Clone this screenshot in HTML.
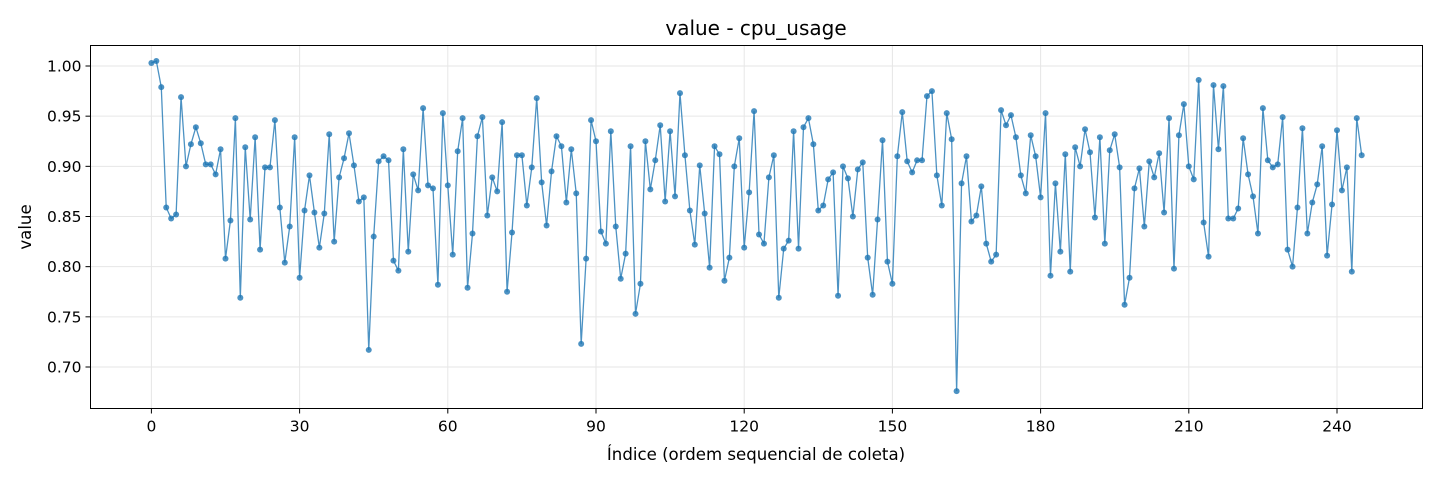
<!DOCTYPE html>
<html><head><meta charset="utf-8"><style>
body{margin:0;background:#fff;font-family:"Liberation Sans","DejaVu Sans",sans-serif}
svg text{font-family:"DejaVu Sans","Liberation Sans",sans-serif}
</style></head><body>
<svg id="chart" width="1440" height="480" xmlns="http://www.w3.org/2000/svg">
<rect width="1440" height="480" fill="#fff"/>
<g id="grid"></g><g id="series"></g><g id="axes"></g>
<text x="756" y="35" font-size="20" text-anchor="middle">value - cpu_usage</text>
<text x="756" y="460" font-size="16.6" text-anchor="middle">Índice (ordem sequencial de coleta)</text>
<text x="31" y="227" font-size="16.6" text-anchor="middle" transform="rotate(-90 31 227)">value</text>
</svg>
<script>
const values=[1.003,1.005,0.979,0.859,0.848,0.852,0.969,0.900,0.922,0.939,0.923,0.902,0.902,0.892,0.917,0.808,0.846,0.948,0.769,0.919,0.847,0.929,0.817,0.899,0.899,0.946,0.859,0.804,0.840,0.929,0.789,0.856,0.891,0.854,0.819,0.853,0.932,0.825,0.889,0.908,0.933,0.901,0.865,0.869,0.717,0.830,0.905,0.910,0.906,0.806,0.796,0.917,0.815,0.892,0.876,0.958,0.881,0.878,0.782,0.953,0.881,0.812,0.915,0.948,0.779,0.833,0.930,0.949,0.851,0.889,0.875,0.944,0.775,0.834,0.911,0.911,0.861,0.899,0.968,0.884,0.841,0.895,0.930,0.920,0.864,0.917,0.873,0.723,0.808,0.946,0.925,0.835,0.823,0.935,0.840,0.788,0.813,0.920,0.753,0.783,0.925,0.877,0.906,0.941,0.865,0.935,0.870,0.973,0.911,0.856,0.822,0.901,0.853,0.799,0.920,0.912,0.786,0.809,0.900,0.928,0.819,0.874,0.955,0.832,0.823,0.889,0.911,0.769,0.818,0.826,0.935,0.818,0.939,0.948,0.922,0.856,0.861,0.887,0.894,0.771,0.900,0.888,0.850,0.897,0.904,0.809,0.772,0.847,0.926,0.805,0.783,0.910,0.954,0.905,0.894,0.906,0.906,0.970,0.975,0.891,0.861,0.953,0.927,0.676,0.883,0.910,0.845,0.851,0.880,0.823,0.805,0.812,0.956,0.941,0.951,0.929,0.891,0.873,0.931,0.910,0.869,0.953,0.791,0.883,0.815,0.912,0.795,0.919,0.900,0.937,0.914,0.849,0.929,0.823,0.916,0.932,0.899,0.762,0.789,0.878,0.898,0.840,0.905,0.889,0.913,0.854,0.948,0.798,0.931,0.962,0.900,0.887,0.986,0.844,0.810,0.981,0.917,0.980,0.848,0.848,0.858,0.928,0.892,0.870,0.833,0.958,0.906,0.899,0.902,0.949,0.817,0.800,0.859,0.938,0.833,0.864,0.882,0.920,0.811,0.862,0.936,0.876,0.899,0.795,0.948,0.911];
const xTicks=[0,30,60,90,120,150,180,210,240];
const yTicks=[0.70,0.75,0.80,0.85,0.90,0.95,1.00];
const L=90.5,R=1422.5,T=45.5,B=408.5;
const x0=151.4,xs=4.94;
function X(i){return x0+i*xs;}
function Y(v){return 66+(1.0-v)*1003.3;}
const NS='http://www.w3.org/2000/svg';
function mk(t,a,p){const e=document.createElementNS(NS,t);for(const k in a)e.setAttribute(k,a[k]);p.appendChild(e);return e;}
const grid=document.getElementById('grid'),axes=document.getElementById('axes'),ser=document.getElementById('series');
xTicks.forEach(t=>{const x=X(t);
const g=mk('line',{x1:x,x2:x,y1:T,y2:B,stroke:'#e6e6e6','stroke-width':1},grid);


mk('line',{x1:x,x2:x,y1:B,y2:B+5,stroke:'#000','stroke-width':1},axes);
const tx=mk('text',{x:x,y:B+23,'font-size':15.5,'text-anchor':'middle'},axes);tx.textContent=t;

});
yTicks.forEach(t=>{const y=Y(t);
const g=mk('line',{x1:L,x2:R,y1:y,y2:y,stroke:'#e6e6e6','stroke-width':1},grid);


mk('line',{x1:L-5,x2:L,y1:y,y2:y,stroke:'#000','stroke-width':1},axes);
const tx=mk('text',{x:L-9,y:y+5.5,'font-size':15.5,'text-anchor':'end'},axes);tx.textContent=t.toFixed(2);

});
const fr=mk('rect',{x:L,y:T,width:R-L,height:B-T,fill:'none',stroke:'#000','stroke-width':1},axes);


const pl=mk('polyline',{points:values.map((v,i)=>X(i)+','+Y(v)).join(' '),fill:'none',stroke:'#1f77b4','stroke-opacity':0.8,'stroke-width':1.3},ser);


values.forEach((v,i)=>{const c=mk('circle',{cx:X(i),cy:Y(v),r:3,fill:'#1f77b4','fill-opacity':0.8},ser);

});
</script>
</body></html>
